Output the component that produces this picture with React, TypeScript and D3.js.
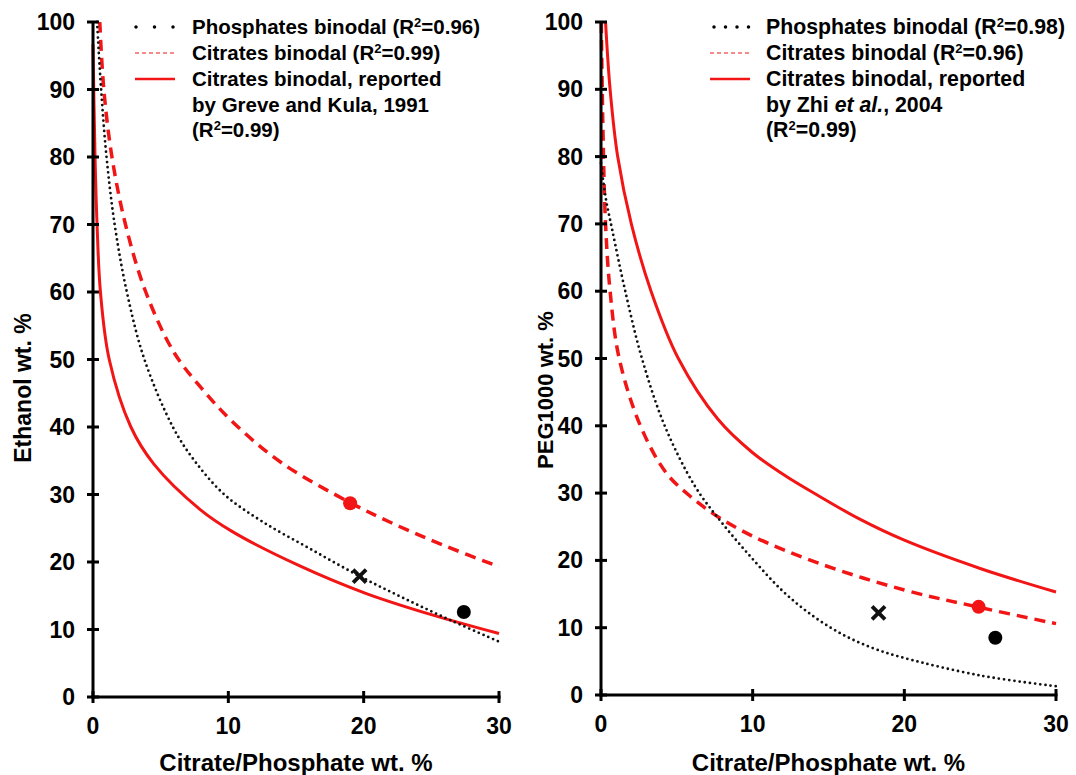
import React from "react";
import * as d3 from "d3";

// ---- data (x = Citrate/Phosphate wt.%, y = Ethanol / PEG1000 wt.%) ----
const leftPhosphates: [number, number][] = [
  [0.3, 100], [0.6, 90], [1.0, 80], [1.6, 70], [2.5, 60], [3.8, 50], [5.9, 40],
  [7.5, 35], [9.7, 30], [12.5, 26], [16.0, 22], [19.6, 18], [23.0, 14.6],
  [26.5, 11.3], [30.0, 8.2],
];
const leftCitrates: [number, number][] = [
  [0.5, 100], [0.8, 90], [1.4, 80], [2.4, 70], [3.9, 60], [6.0, 51], [8.0, 45.8],
  [10.4, 40.6], [14.0, 34.6], [19.0, 28.8], [22.6, 25.3], [26.0, 22.4], [30.0, 19.3],
];
const leftReported: [number, number][] = [
  [0.0, 96.7], [0.15, 80], [0.3, 70], [0.55, 60], [1.2, 50], [2.8, 40], [4.5, 34.5],
  [7.9, 27.8], [10.3, 24.5], [15.2, 19.5], [20.1, 15.4], [25.0, 12.2], [30.0, 9.4],
];
const leftRedDot: [number, number] = [19.0, 28.7];
const leftCross: [number, number] = [19.7, 17.9];
const leftBlackDot: [number, number] = [27.4, 12.6];

const rightPhosphates: [number, number][] = [
  [0.0, 79], [0.3, 74], [0.75, 69], [1.6, 60], [2.7, 50], [4.2, 40], [6.2, 31],
  [8.0, 25.5], [10.0, 20.2], [12.0, 15.4], [14.0, 11.7], [16.0, 8.9], [18.0, 6.9],
  [20.0, 5.5], [25.0, 2.9], [30.0, 1.3],
];
const rightCitrates: [number, number][] = [
  [0.02, 100], [0.12, 85], [0.3, 70], [0.6, 60], [1.2, 50], [2.6, 40], [4.3, 33],
  [5.9, 29.5], [7.7, 26.5], [10.0, 23.6], [14.2, 19.7], [20.0, 15.6], [24.8, 13.1],
  [30.0, 10.6],
];
const rightReported: [number, number][] = [
  [0.3, 100], [0.6, 90], [1.1, 80], [2.0, 70], [3.3, 60], [5.1, 50], [7.7, 41],
  [10.0, 36], [12.2, 32.5], [14.2, 29.8], [17.0, 26.2], [20.0, 23], [25.0, 18.8],
  [30.0, 15.3],
];
const rightRedDot: [number, number] = [24.9, 13.1];
const rightCross: [number, number] = [18.3, 12.2];
const rightBlackDot: [number, number] = [26.0, 8.5];

const xTicks = [0, 10, 20, 30];
const yTicks = [0, 10, 20, 30, 40, 50, 60, 70, 80, 90, 100];

const leftLegend = ["0.96", "0.99", "Greve and Kula, 1991"];
const rightLegend = ["0.98", "0.96", "Zhi"];

const RED = "#f21515";
const FONT = "Liberation Sans, Arial, Helvetica, sans-serif";

type PanelProps = {
  x0: number; x1: number; y0: number; y1: number;
  phos: [number, number][]; cit: [number, number][]; rep: [number, number][];
  redDot: [number, number]; cross: [number, number]; blackDot: [number, number];
  yTitle: string; legX: number; legend: string[]; zhi: boolean; yTitleX: number; yTitleY: number;
  legFont: number; yTitleFont: number;
};

function Sup({ r2 }: { r2: string }) {
  return (
    <>
      <tspan>(R</tspan>
      <tspan fontSize={13} dy={-7}>2</tspan>
      <tspan dy={7}>={r2})</tspan>
    </>
  );
}

function Panel(p: PanelProps) {
  const x = d3.scaleLinear().domain([0, 30]).range([p.x0, p.x1]);
  const y = d3.scaleLinear().domain([0, 100]).range([p.y0, p.y1]);
  const line = d3.line<[number, number]>().x(d => x(d[0])).y(d => y(d[1])).curve(d3.curveCatmullRom.alpha(0.5));
  const lx = p.legX;
  const rows = [27, 53, 79, 105, 130];
  const LF = p.legFont;
  const tx = lx + (p.zhi ? 56 : 57);
  return (
    <g fontFamily={FONT} fontWeight="bold">
      {/* curves */}
      <path d={line(p.rep) || ""} fill="none" stroke={RED} strokeWidth={3} />
      <path d={line(p.cit) || ""} fill="none" stroke={RED} strokeWidth={3.5} strokeDasharray="11 7" />
      <path d={line(p.phos) || ""} fill="none" stroke="#111" strokeWidth={2.8} strokeDasharray="0 5.2" strokeLinecap="round" />
      {/* axes */}
      <line x1={p.x0} x2={p.x0} y1={y(100) - 1} y2={p.y0 + 1.5} stroke="#000" strokeWidth={3} />
      <line x1={p.x0 - 1.5} x2={p.x1 + 1.5} y1={p.y0} y2={p.y0} stroke="#000" strokeWidth={3} />
      {yTicks.map(t => (
        <g key={"y" + t}>
          <line x1={p.x0 - 6} x2={p.x0 + 6} y1={y(t)} y2={y(t)} stroke="#000" strokeWidth={3} />
          <text x={p.x0 - 18} y={y(t) + 8} textAnchor="end" fontSize={23}>{t}</text>
        </g>
      ))}
      {xTicks.map(t => (
        <g key={"x" + t}>
          <line x1={x(t)} x2={x(t)} y1={p.y0 - 6} y2={p.y0 + 6} stroke="#000" strokeWidth={3} />
          <text x={x(t)} y={p.y0 + 37} textAnchor="middle" fontSize={23}>{t}</text>
        </g>
      ))}
      <text x={(p.x0 + p.x1) / 2} y={771} textAnchor="middle" fontSize={24}>Citrate/Phosphate wt. %</text>
      <text transform={`translate(${p.yTitleX},${p.yTitleY}) rotate(-90)`} textAnchor="middle" fontSize={p.yTitleFont}>{p.yTitle}</text>
      {/* markers */}
      <circle cx={x(p.redDot[0])} cy={y(p.redDot[1])} r={7} fill={RED} />
      <circle cx={x(p.blackDot[0])} cy={y(p.blackDot[1])} r={7} fill="#000" />
      <g stroke="#111" strokeWidth={3.8}>
        <line x1={x(p.cross[0]) - 6.5} x2={x(p.cross[0]) + 6.5} y1={y(p.cross[1]) - 6.5} y2={y(p.cross[1]) + 6.5} />
        <line x1={x(p.cross[0]) - 6.5} x2={x(p.cross[0]) + 6.5} y1={y(p.cross[1]) + 6.5} y2={y(p.cross[1]) - 6.5} />
      </g>
      {/* legend */}
      <line x1={lx} x2={lx + 40} y1={rows[0]} y2={rows[0]} stroke="#000" strokeWidth={3.5} strokeDasharray={p.zhi ? "0 11.5" : "0 18.5"} strokeLinecap="round" transform={`translate(${p.zhi ? 4 : 1},0)`} />
      <line x1={lx} x2={lx + 40} y1={rows[1]} y2={rows[1]} stroke={RED} strokeWidth={1.2} strokeDasharray="4 3" />
      <line x1={lx} x2={lx + 40} y1={rows[2]} y2={rows[2]} stroke={RED} strokeWidth={2.5} />
      <text x={tx} y={rows[0] + 7} fontSize={LF}>Phosphates binodal <Sup r2={p.legend[0]} /></text>
      <text x={tx} y={rows[1] + 7} fontSize={LF}>Citrates binodal <Sup r2={p.legend[1]} /></text>
      <text x={tx} y={rows[2] + 7} fontSize={LF}>Citrates binodal, reported</text>
      {p.zhi ? (
        <text x={tx} y={rows[3] + 7} fontSize={LF}>by Zhi <tspan fontStyle="italic">et al.</tspan>, 2004</text>
      ) : (
        <text x={tx} y={rows[3] + 7} fontSize={LF}>by {p.legend[2]}</text>
      )}
      <text x={tx} y={rows[4] + 7} fontSize={LF}><Sup r2="0.99" /></text>
    </g>
  );
}

export default function App() {
  return (
    <svg width={1076} height={775} style={{ display: "block", position: "absolute", left: 0, top: 0, background: "#fff" }}>
      <rect width={1076} height={775} fill="#fff" />
      <Panel x0={93} x1={499} y0={697} y1={22} phos={leftPhosphates} cit={leftCitrates} rep={leftReported}
        redDot={leftRedDot} cross={leftCross} blackDot={leftBlackDot} yTitle="Ethanol wt. %"
        legX={135} legend={leftLegend} zhi={false} yTitleX={31} yTitleY={388} legFont={20.5} yTitleFont={23} />
      <Panel x0={601} x1={1056} y0={695} y1={22} phos={rightPhosphates} cit={rightCitrates} rep={rightReported}
        redDot={rightRedDot} cross={rightCross} blackDot={rightBlackDot} yTitle="PEG1000 wt. %"
        legX={710} legend={rightLegend} zhi={true} yTitleX={553} yTitleY={390} legFont={21.3} yTitleFont={22} />
    </svg>
  );
}
